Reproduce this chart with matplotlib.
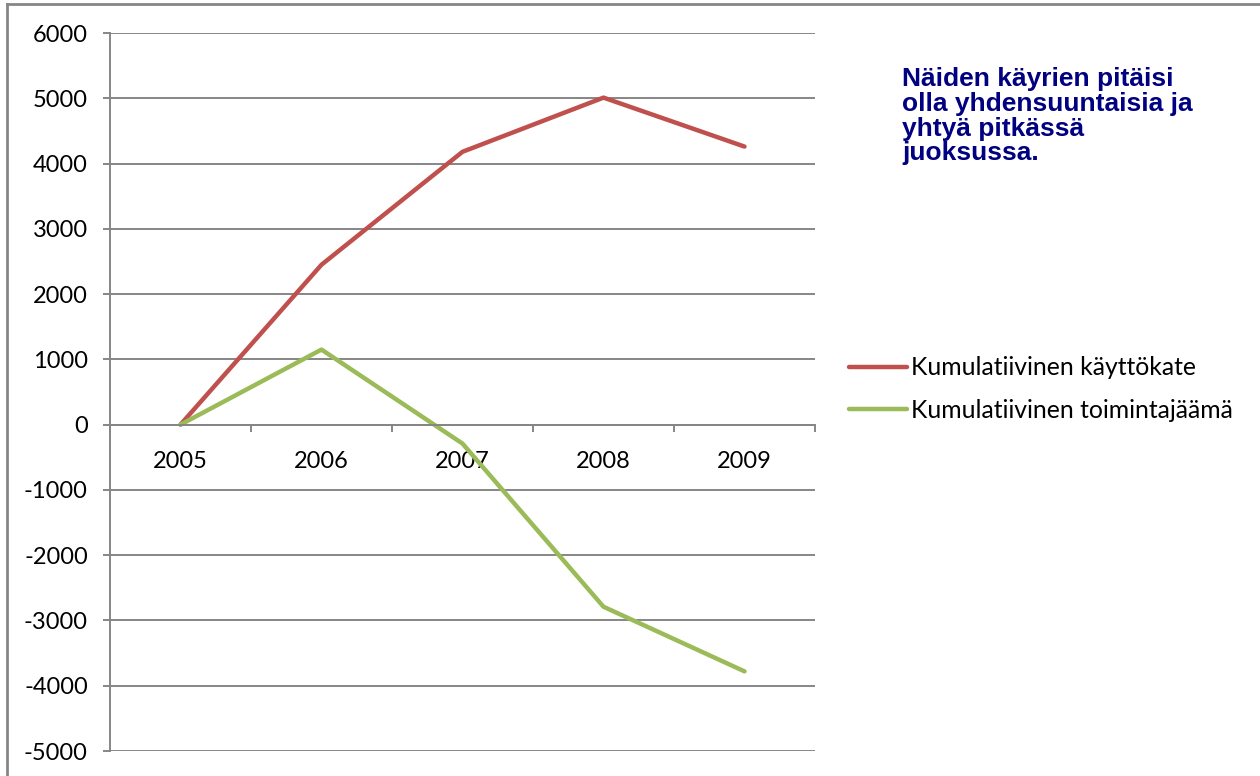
import matplotlib.pyplot as plt
from matplotlib.lines import Line2D

# data
years = ['2005', '2006', '2007', '2008', '2009']
kayttokate = [0, 2450, 4180, 5010, 4260]
toimintajaama = [0, 1150, -290, -2790, -3780]
yticks = list(range(-5000, 6001, 1000))

plt.rcParams['font.family'] = ['Lato', 'DejaVu Sans']

W, H = 1260, 776
fig = plt.figure(figsize=(W / 100, H / 100), dpi=100)
ax = fig.add_axes([110 / W, 1 - 751 / H, (815 - 110) / W, (751 - 33) / H])

grey = '#868686'
x = list(range(len(years)))
ax.plot(x, kayttokate, color='#C0504D', lw=3.2, solid_capstyle='round',
        label='Kumulatiivinen käyttökate')
ax.plot(x, toimintajaama, color='#9BBB59', lw=3.2, solid_capstyle='round',
        label='Kumulatiivinen toimintajäämä')

ax.set_xlim(-0.5, len(years) - 0.5)
ax.set_ylim(-5000, 6000)
ax.set_yticks(yticks)
ax.set_yticklabels([str(v) for v in yticks], fontsize=17)
ax.yaxis.grid(True, color=grey, lw=1.4)
ax.set_axisbelow(True)

# category axis sits on the zero line
ax.spines['bottom'].set_position(('data', 0))
ax.spines['bottom'].set_color(grey)
ax.spines['bottom'].set_linewidth(1.4)
ax.spines['left'].set_color(grey)
ax.spines['left'].set_linewidth(1.4)
ax.spines['top'].set_visible(False)
ax.spines['right'].set_visible(False)
ax.set_xticks([i - 0.5 for i in range(len(years) + 1)])
ax.set_xticklabels([])
ax.set_xticks(x, minor=True)
ax.set_xticklabels(years, minor=True, fontsize=17)
ax.tick_params(axis='x', which='major', direction='out', length=5, color=grey, width=1.4)
ax.tick_params(axis='x', which='minor', length=0, pad=19)
ax.tick_params(axis='y', direction='out', length=5, color=grey, width=1.4, pad=11)

fig.legend(loc='center left', bbox_to_anchor=(849 / W, 1 - 389 / H), frameon=False,
           fontsize=17.8, handlelength=2.35, handletextpad=0.15, labelspacing=0.78,
           borderpad=0, borderaxespad=0)

fig.text(902 / W, 1 - 67 / H,
         'Näiden käyrien pitäisi\nolla yhdensuuntaisia ja\nyhtyä pitkässä\njuoksussa.',
         family='Liberation Sans', fontweight='bold', fontsize=19, color='#000080',
         va='top', ha='left', linespacing=1.04)

# chart frame (top and left edges visible)
fig.add_artist(Line2D([7 / W, 7 / W], [0, 1 - 4 / H], color=grey, lw=2, transform=fig.transFigure))
fig.add_artist(Line2D([7 / W, 1], [1 - 4 / H, 1 - 4 / H], color=grey, lw=2, transform=fig.transFigure))

fig.savefig('out.png', dpi=100)
